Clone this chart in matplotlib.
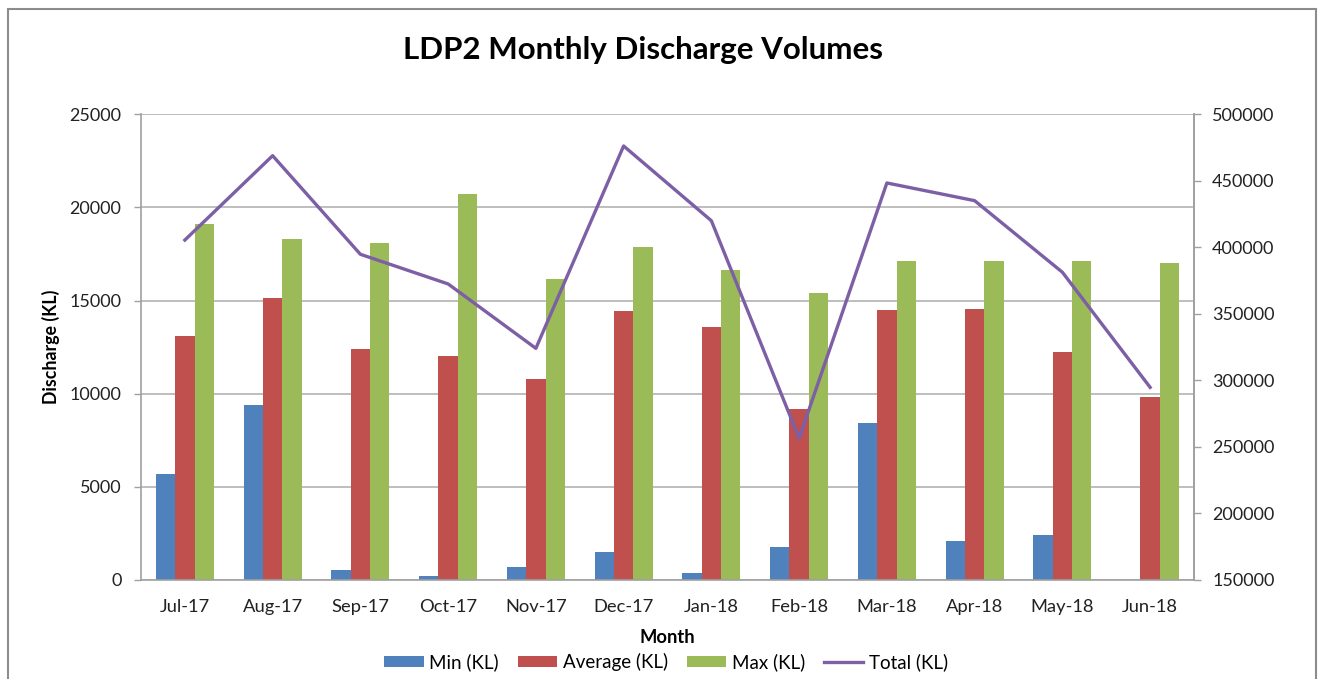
import numpy as np
import matplotlib.pyplot as plt
from matplotlib.patches import Rectangle

plt.rcParams['font.family'] = ['Lato', 'DejaVu Sans']

months = ["Jul-17", "Aug-17", "Sep-17", "Oct-17", "Nov-17", "Dec-17",
          "Jan-18", "Feb-18", "Mar-18", "Apr-18", "May-18", "Jun-18"]
min_kl = [5700, 9400, 550, 230, 700, 1500, 400, 1770, 8430, 2080, 2400, 0]
avg_kl = [13100, 15150, 12400, 12000, 10800, 14430, 13590, 9170, 14480, 14540, 12260, 9840]
max_kl = [19100, 18300, 18100, 20700, 16150, 17850, 16630, 15430, 17100, 17100, 17150, 17040]
total_kl = [405500, 468900, 394800, 372500, 324100, 476200, 420000, 256500, 448400, 435100, 381300, 294800]

fig = plt.figure(figsize=(13.18, 6.79), dpi=100)
ax = fig.add_axes([141/1318, 1-580/679, (1194-141)/1318, (580-114.3)/679])

x = np.arange(len(months))
w = 0.221
ax.bar(x - w, min_kl, w, color="#4F81BD", label="Min (KL)")
ax.bar(x, avg_kl, w, color="#C0504D", label="Average (KL)")
ax.bar(x + w, max_kl, w, color="#9BBB59", label="Max (KL)")

ax.set_xlim(-0.5, 11.5)
ax.set_ylim(0, 25000)
ax.set_yticks(range(0, 25001, 5000))
ax.set_xticks(x)
ax.set_xticklabels(months)
ax.set_axisbelow(True)
ax.grid(axis="y", color="#B3B3B3", linewidth=1.2)
ax.tick_params(axis="x", length=0, pad=14, labelsize=13.2, labelcolor="#222222")
ax.tick_params(axis="y", length=5, width=1, color="#A0A0A0", pad=9, labelsize=13, labelcolor="#222222")
for s in ["left", "bottom", "right"]:
    ax.spines[s].set_color("#A0A0A0")
    ax.spines[s].set_linewidth(1.2)
ax.spines["top"].set_visible(False)
ax.set_ylabel("Discharge (KL)", fontweight="bold", fontsize=12.8, labelpad=7)
ax.set_xlabel("Month", fontweight="bold", fontsize=13.2, labelpad=10)

ax2 = ax.twinx()
ax2.plot(x, total_kl, color="#7D5FA6", linewidth=2.4, label="Total (KL)")
ax2.set_ylim(150000, 500000)
ax2.set_yticks(range(150000, 500001, 50000))
ax2.tick_params(axis="y", length=5, width=1, color="#A0A0A0", pad=8, labelsize=13, labelcolor="#222222")
for s in ["left", "bottom", "top"]:
    ax2.spines[s].set_visible(False)
ax2.spines["right"].set_color("#A0A0A0")
ax2.spines["right"].set_linewidth(1.2)

fig.text(643/1318, 1-50/679, "LDP2 Monthly Discharge Volumes", ha="center", va="center",
         fontsize=22.5, fontweight="bold")

h1, l1 = ax.get_legend_handles_labels()
h2, l2 = ax2.get_legend_handles_labels()
fig.legend(h1 + h2, l1 + l2, loc="center", bbox_to_anchor=(666/1318, 1-662/679), ncol=4,
           frameon=False, fontsize=13.5, handlelength=2.1, handleheight=0.55,
           handletextpad=0.3, columnspacing=1.0)

fig.add_artist(Rectangle((8/1318, -0.1), (1316-8)/1318, 1.1 - 9/679, transform=fig.transFigure,
                         fill=False, edgecolor="#8C8C8C", linewidth=1.5))

fig.savefig("out.png", dpi=100)
